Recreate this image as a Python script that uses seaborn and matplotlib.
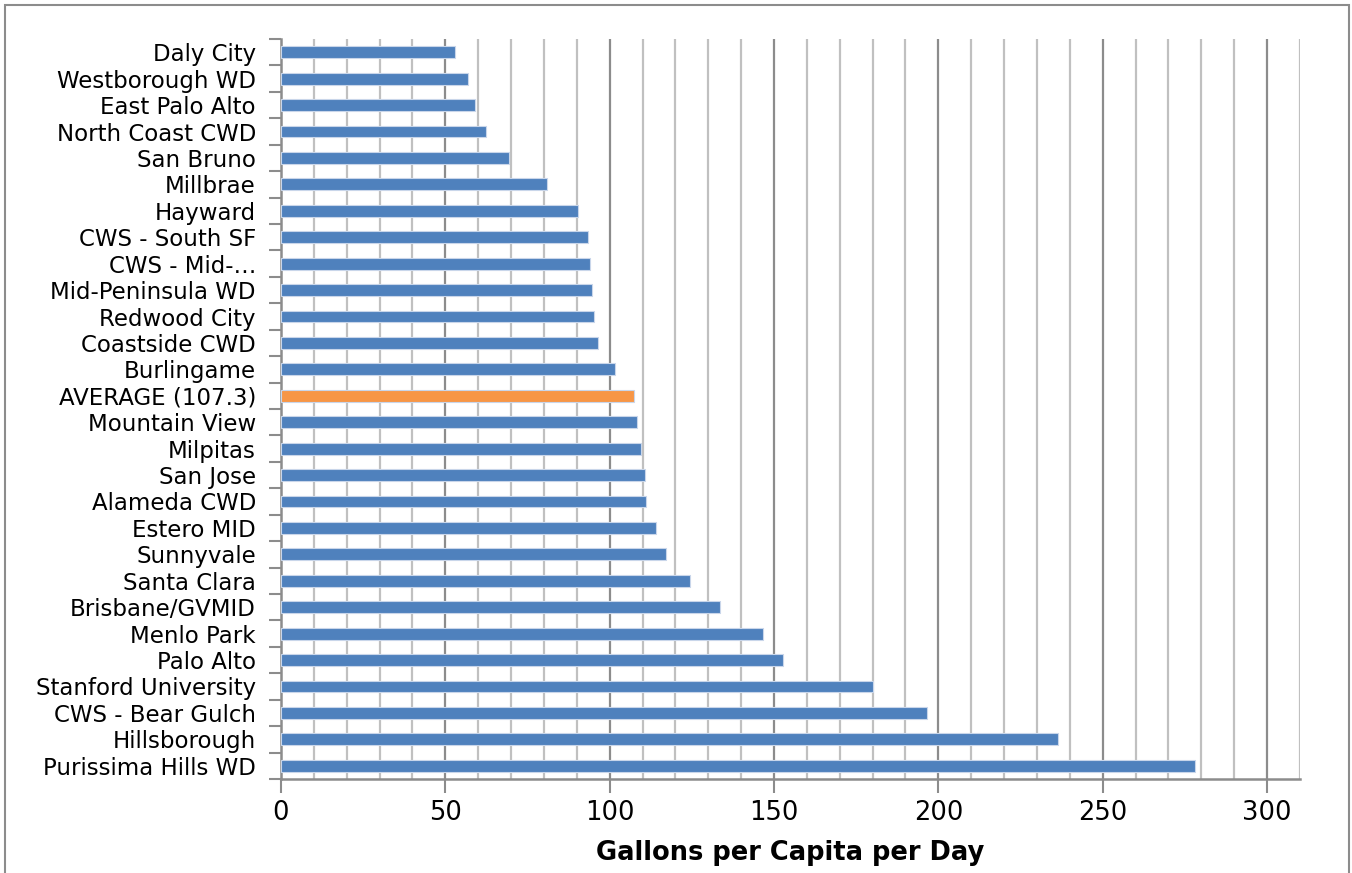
import pandas as pd
import matplotlib.pyplot as plt
import matplotlib.patches as mpatches
from matplotlib.ticker import MultipleLocator, FixedLocator
import seaborn as sns

agencies = ['Daly City', 'Westborough WD', 'East Palo Alto', 'North Coast CWD', 'San Bruno',
            'Millbrae', 'Hayward', 'CWS - South SF', 'CWS - Mid-\u2026', 'Mid-Peninsula WD',
            'Redwood City', 'Coastside CWD', 'Burlingame', 'AVERAGE (107.3)', 'Mountain View',
            'Milpitas', 'San Jose', 'Alameda CWD', 'Estero MID', 'Sunnyvale', 'Santa Clara',
            'Brisbane/GVMID', 'Menlo Park', 'Palo Alto', 'Stanford University',
            'CWS - Bear Gulch', 'Hillsborough', 'Purissima Hills WD']
gpcd = [52.9, 56.8, 58.9, 62.5, 69.3, 81.0, 90.5, 93.3, 94.1, 94.6,
        95.1, 96.6, 101.6, 107.3, 108.2, 109.5, 110.7, 111.1, 114.0, 117.2, 124.3,
        133.6, 146.6, 152.8, 180.2, 196.6, 236.4, 278.1]
kind = ['Average' if a.startswith('AVERAGE') else 'Agency' for a in agencies]

df = pd.DataFrame({'agency': agencies, 'gpcd': gpcd, 'kind': kind})

sns.set_theme(style='white')
plt.rcParams['font.family'] = ['DejaVu Sans']
plt.rcParams['text.color'] = 'black'
plt.rcParams['xtick.color'] = 'black'
plt.rcParams['ytick.color'] = 'black'
plt.rcParams['axes.labelcolor'] = 'black'

fig = plt.figure(figsize=(13.52, 8.73), dpi=100)
ax = fig.add_axes([0.2078, 0.1077, 0.9615 - 0.2078, 0.9553 - 0.1077])

sns.barplot(data=df, y='agency', x='gpcd', hue='kind', orient='h',
            palette={'Agency': '#4F81BD', 'Average': '#F79646'}, saturation=1,
            width=0.45, dodge=False, legend=False, edgecolor='#C9D6EA', linewidth=0.8,
            ax=ax, zorder=3)

ax.set_xlim(0, 310)
ax.set_ylim(len(agencies) - 0.5, -0.5)

# gridlines: light every 10, darker every 50
for v in range(10, 311, 10):
    ax.axvline(v, color='#8C8C8C' if v % 50 == 0 else '#C0C0C0', lw=1.6, zorder=1)

ax.xaxis.set_major_locator(MultipleLocator(50))
ax.tick_params(axis='x', which='major', length=10, width=1.5, color='#8C8C8C',
               direction='out', labelsize=18.5, pad=5, bottom=True, labelcolor='black')
ax.yaxis.set_minor_locator(FixedLocator([i + 0.5 for i in range(-1, len(agencies))]))
ax.tick_params(axis='y', which='major', length=0, labelsize=16.5, pad=18, labelcolor='black')
ax.tick_params(axis='y', which='minor', length=9, width=1.5, color='#8C8C8C',
               direction='out', left=True)

for s in ['top', 'right']:
    ax.spines[s].set_visible(False)
for s in ['left', 'bottom']:
    ax.spines[s].set_color('#8C8C8C')
    ax.spines[s].set_linewidth(1.8)

ax.set_ylabel('')
ax.set_xlabel('Gallons per Capita per Day', fontsize=18.5, fontweight='bold', labelpad=10)

fig.patches.append(mpatches.Rectangle((0.004, -0.01), 0.994, 1.004, transform=fig.transFigure,
                                      fill=False, edgecolor='#8C8C8C', lw=1.5))

fig.savefig('out.png', dpi=100)
